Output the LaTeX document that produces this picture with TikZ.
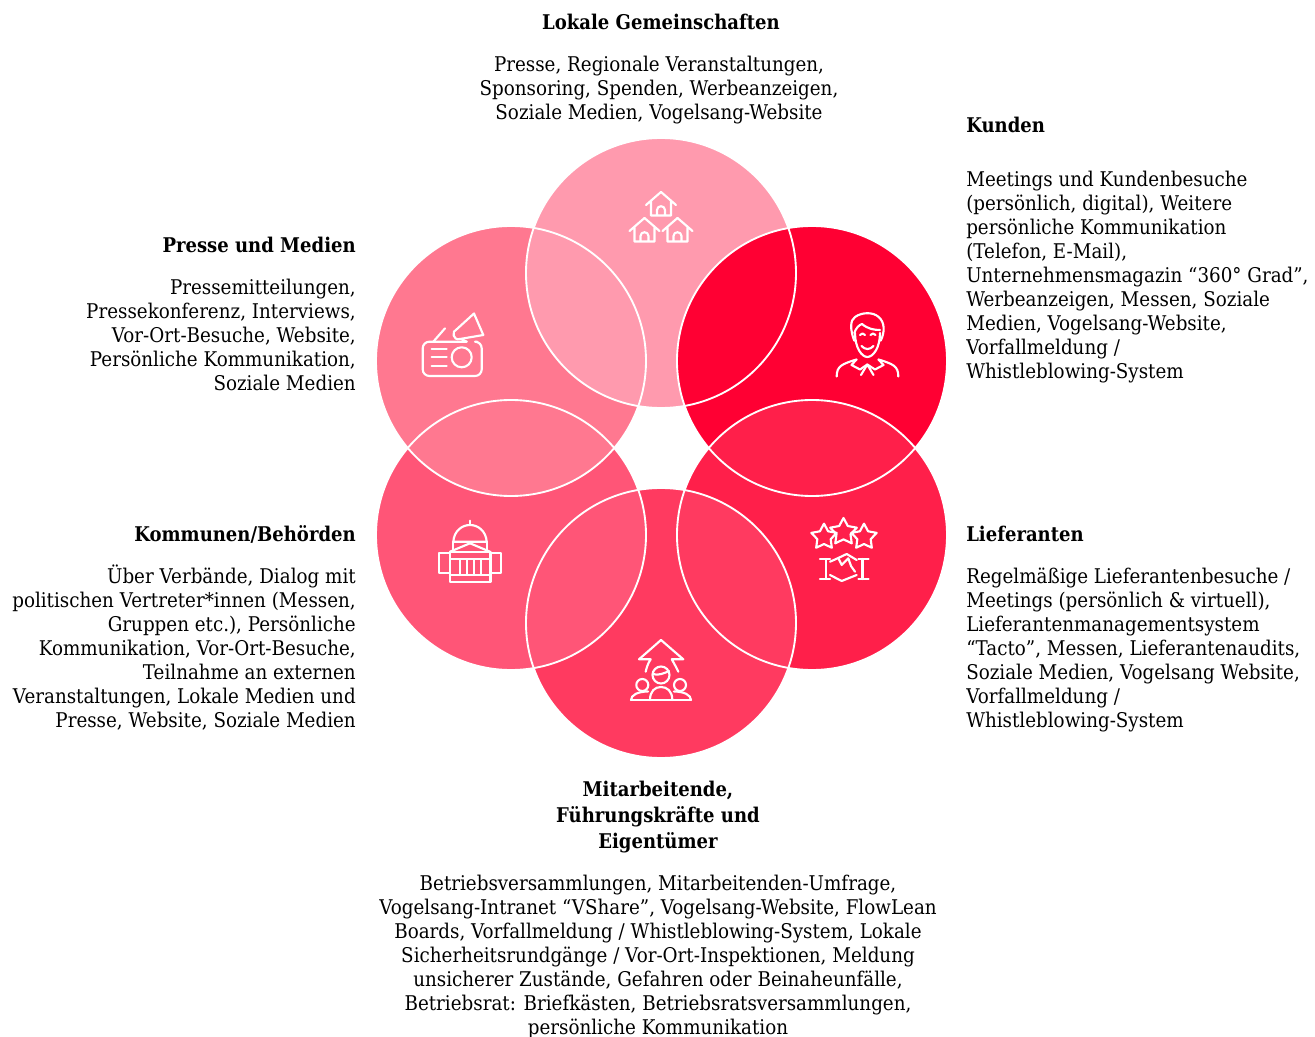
\documentclass[tikz,border=0pt]{standalone}
\usepackage{fontspec}
\setmainfont{DejaVu Serif}[FakeStretch=0.903, BoldFeatures={FakeStretch=0.89}]
\usetikzlibrary{shapes.geometric}

\definecolor{topred}{HTML}{FF9AAE}
\definecolor{kundenred}{HTML}{FF0033}
\definecolor{pressered}{HTML}{FF7890}
\definecolor{kommunenred}{HTML}{FF5577}
\definecolor{lieferred}{HTML}{FF1F4A}
\definecolor{teamred}{HTML}{FF3A60}

\tikzset{
  bubble/.style={circle, minimum size=202.5pt, inner sep=0pt, outer sep=0pt},
  rim/.style={draw=white, line width=1.4pt},
  icon/.style={draw=white, line width=1.6pt, line join=round, line cap=round},
  starry/.style={star, star points=5, star point ratio=1.9, icon, inner sep=0pt},
  head/.style={font=\fontsize{15.2}{19.5}\selectfont\bfseries, align=center, inner sep=0pt},
  body/.style={font=\fontsize{15.2}{18}\selectfont, inner sep=0pt}
}

\begin{document}
\begin{tikzpicture}[x=0.75pt, y=-0.75pt]
      \useasboundingbox (0,0) rectangle (1315,1037);

      % Define circles
      \node[bubble, fill=topred] (top) at (661,273) {};
      \node[bubble, fill=kundenred] (kunden) at (812,361) {};
      \node[bubble, fill=lieferred] (liefer) at (812,535) {};
      \node[bubble, fill=teamred] (team) at (661,623) {};
      \node[bubble, fill=kommunenred] (kommunen) at (511,535) {};
      \node[bubble, fill=pressered] (presse) at (511,361) {};

      % Lens between top and left circle
      \begin{scope}
        \clip (top.center) circle (135);
        \fill[topred] (presse.center) circle (135);
      \end{scope}

      % White rims
      \foreach \n in {top, kunden, liefer, team, kommunen, presse}
        \draw[rim] (\n.center) circle (135);

      % Houses
      \foreach \x/\y in {661/192, 644.5/218, 677.5/218} {
        \draw[icon, shift={(\x,\y)}] (-15,13) -- (0,0) -- (15,13)
          (-10,9) -- (-10,23.5) -- (10,23.5) -- (10,9)
          (-4,23.5) -- (-4,18) .. controls (-4,13) and (4,13) .. (4,18) -- (4,23.5);
      }

      % Person
      \draw[icon] (854.3,340.7) .. controls (850,330) and (850,320) .. (855,317)
        .. controls (862,312) and (873,312) .. (878.3,316.7)
        .. controls (885,322) and (885,332) .. (880.7,340.7);
      \draw[icon] (854.3,333) .. controls (856,328) and (859,325) .. (862,324)
        .. controls (868,329) and (874,330) .. (880,330);
      \draw[icon] (855,333) .. controls (855,348) and (862,357) .. (867.3,357)
        .. controls (873,357) and (880,348) .. (880,333);
      \draw[icon] (860,335) .. controls (861,333) and (864,333) .. (865,335)
        (870.5,335) .. controls (871.5,333) and (874.5,333) .. (875.5,335);
      \draw[icon] (861.5,346) .. controls (865,350) and (870,350) .. (873.5,346);
      \draw[icon] (836.7,376.5) .. controls (836.7,366) and (842,364) .. (856.5,359.5)
        (898.3,376.5) .. controls (898.3,366) and (893,364) .. (878.5,359.5);
      \draw[icon] (856.5,359.5) -- (851.5,365) -- (860,369.5) -- (867.3,364.5)
        -- (875,369.5) -- (883.5,365) -- (878.5,359.5);
      \draw[icon] (867.3,364.5) -- (861,375) (867.3,364.5) -- (873.5,375);

      % Radio with megaphone
      \draw[icon, rounded corners=5] (466.7,341.7) -- (422.7,341.7) -- (422.7,376)
        -- (481.7,376) -- (481.7,341.7) -- (477.3,341.7);
      \draw[icon] (433.3,341.7) -- (445,328.3);
      \foreach \y in {349.3, 357.3, 365.7}
        \draw[icon] (431.7,\y) -- (446.7,\y);
      \draw[icon] (461.7,357.3) circle (10);
      \draw[icon] (457,329) -- (474,313.5) -- (483.3,335) -- (460,339);
      \draw[icon] (457,329) .. controls (451,331) and (453,341) .. (460,339)
        (461,339) -- (466.7,341.7);

      % Capitol
      \draw[icon] (453.3,541.7) .. controls (454,531) and (462,525) .. (470,525)
        .. controls (478,525) and (486,531) .. (486.7,541.7) -- cycle;
      \draw[icon] (470,520.7) -- (470,525);
      \draw[icon] (453.3,541.7) -- (453.3,550) (486.7,541.7) -- (486.7,550);
      \draw[icon] (450,551.7) -- (470,543.3) -- (490,551.7);
      \draw[icon] (450,551.7) rectangle (490.5,581.7);
      \draw[icon] (450,552.7) -- (439.3,552.7) -- (439.3,573.3) -- (450,573.3)
        (490.5,552.7) -- (500.7,552.7) -- (500.7,573.3) -- (490.5,573.3);
      \draw[icon] (450,559.3) -- (490.5,559.3) (450,575) -- (490.5,575);
      \foreach \x in {460, 467, 474, 481}
        \draw[icon] (\x,559.3) -- (\x,575);

      % Stars and handshake
      \node[starry, minimum size=20pt] (starl) at (824,537) {};
      \node[starry, minimum size=21pt] (starm) at (843.5,532) {};
      \node[starry, minimum size=20pt] (starr) at (864,537) {};
      \draw[icon] (820,559) -- (830,559) (820,579) -- (830,579)
        (858.5,559) -- (868.5,559) (858.5,579) -- (868.5,579)
        (826,559) -- (826,579) (862.5,559) -- (862.5,579);
      \draw[icon] (830,561.7) -- (838.3,558) -- (846.7,554) -- (856.7,560)
        (830,575) -- (841.7,581) -- (856.7,575);
      \draw[icon] (838.3,558) -- (841.7,565) -- (848.3,558.3) -- (851,566) -- (855,571.7);

      % People with arrow
      \draw[icon] (645.7,671.7) .. controls (646.5,668) and (648,663) .. (650.7,659.3)
        -- (639,659.3) -- (661,640) -- (683.3,659.3) -- (671.7,659.3)
        .. controls (674,663) and (676.5,668) .. (678.3,671.7);
      \draw[icon] (661,675) circle (8.5);
      \draw[icon] (652.7,674) .. controls (658,676) and (665,673) .. (669,671);
      \draw[icon] (642.3,685) circle (6) (680,685) circle (6);
      \draw[icon] (631,700) -- (691,700);
      \draw[icon] (650,700) .. controls (650,691) and (655,687) .. (661,687)
        .. controls (667,687) and (672.3,691) .. (672.3,700);
      \draw[icon] (631,700) .. controls (631,695) and (638,691.5) .. (648,691.5)
        (691,700) .. controls (691,695) and (684,691.5) .. (674,691.5);

      % Define labels
      \node[head] (t1) at (661,22) {Lokale Gemeinschaften};
      \node[body, align=center] (b1) at (659,90) {Presse, Regionale Veranstaltungen,\\Sponsoring, Spenden, Werbeanzeigen,\\Soziale Medien, Vogelsang-Website};
      \node[head, anchor=west] (t2) at (966,125) {Kunden};
      \node[body, align=left, anchor=west] (b2) at (966,277) {Meetings und Kundenbesuche\\(persönlich, digital), Weitere\\persönliche Kommunikation\\(Telefon, E-Mail),\\Unternehmensmagazin “360° Grad”,\\Werbeanzeigen, Messen, Soziale\\Medien, Vogelsang-Website,\\Vorfallmeldung /\\Whistleblowing-System};
      \node[head, anchor=east] (t3) at (356,245) {Presse und Medien};
      \node[body, align=right, anchor=east] (b3) at (356,334.5) {Pressemitteilungen,\\Pressekonferenz, Interviews,\\Vor-Ort-Besuche, Website,\\Persönliche Kommunikation,\\Soziale Medien};
      \node[head, anchor=east] (t4) at (356,534) {Kommunen/Behörden};
      \node[body, align=right, anchor=east] (b4) at (356,648) {Über Verbände, Dialog mit\\politischen Vertreter*innen (Messen,\\Gruppen etc.), Persönliche\\Kommunikation, Vor-Ort-Besuche,\\Teilnahme an externen\\Veranstaltungen, Lokale Medien und\\Presse, Website, Soziale Medien};
      \node[head, anchor=west] (t5) at (966,534) {Lieferanten};
      \node[body, align=left, anchor=west] (b5) at (966,650) {Regelmäßige Lieferantenbesuche /\\Meetings (persönlich \& virtuell),\\Lieferantenmanagementsystem\\“Tacto”, Messen, Lieferantenaudits,\\Soziale Medien, Vogelsang Website,\\Vorfallmeldung /\\Whistleblowing-System};
      \node[head] (t6) at (658,817) {Mitarbeitende,\\Führungskräfte und\\Eigentümer};
      \node[body, align=center] (b6) at (658,957) {Betriebsversammlungen, Mitarbeitenden-Umfrage,\\Vogelsang-Intranet “VShare”, Vogelsang-Website, FlowLean\\Boards, Vorfallmeldung / Whistleblowing-System, Lokale\\Sicherheitsrundgänge / Vor-Ort-Inspektionen, Meldung\\unsicherer Zustände, Gefahren oder Beinaheunfälle,\\Betriebsrat: Briefkästen, Betriebsratsversammlungen,\\persönliche Kommunikation};

\end{tikzpicture}
\end{document}
